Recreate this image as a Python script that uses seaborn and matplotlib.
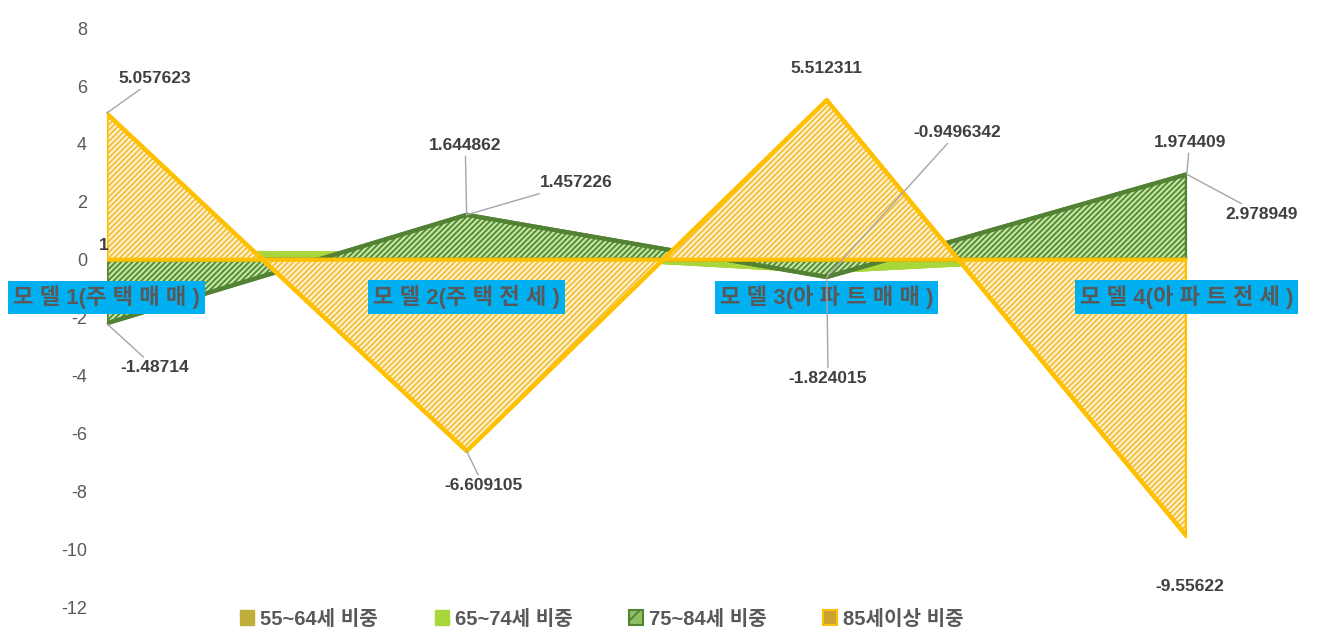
import numpy as np
import pandas as pd
import seaborn as sns
import matplotlib.pyplot as plt
from matplotlib.patches import Patch

categories = ["모델1(주택매매)", "모델2(주택전세)", "모델3(아파트매매)", "모델4(아파트전세)"]
cat_display = ["모 델 1(주 택 매 매 )", "모 델 2(주 택 전 세 )", "모 델 3(아 파 트 매 매 )", "모 델 4(아 파 트 전 세 )"]
series_names = ["55~64세 비중", "65~74세 비중", "75~84세 비중", "85세이상 비중"]

s55 = [0.25, 0.15, -0.35, 0.1]
s65 = [0.3, 0.25, -0.45, 0.2]
s75 = [-2.2, 1.55, -0.6, 2.95]
s85 = [5.057623, -6.609105, 5.512311, -9.55622]

# label text, series, category index, offset (points), leader line?
labels = [
    ("5.057623", "85세이상 비중", 0, (35, 25), True),
    ("-1.48714", "75~84세 비중", 0, (35, -32), True),
    ("1", "65~74세 비중", 0, (-2, 4), False),
    ("1.644862", "75~84세 비중", 1, (-1, 50), True),
    ("1.457226", "75~84세 비중", 1, (79, 23), True),
    ("-6.609105", "85세이상 비중", 1, (12, -25), True),
    ("5.512311", "85세이상 비중", 2, (0, 23), False),
    ("-0.9496342", "75~84세 비중", 2, (94, 104), True),
    ("-1.824015", "75~84세 비중", 2, (1, -73), True),
    ("1.974409", "75~84세 비중", 3, (2, 23), True),
    ("2.978949", "75~84세 비중", 3, (54, -29), True),
    ("-9.55622", "85세이상 비중", 3, (2, -36), False),
]

df = pd.DataFrame({
    "pos": np.tile(np.arange(len(categories)), 4),
    "value": s55 + s65 + s75 + s85,
    "series": np.repeat(series_names, len(categories)),
})

sns.set_theme(style="white")
plt.rcParams["font.family"] = ["Liberation Sans", "Noto Sans CJK KR", "DejaVu Sans"]
plt.rcParams["hatch.linewidth"] = 1.3
plt.rcParams["axes.unicode_minus"] = False

fig = plt.figure(figsize=(13.32, 6.39), dpi=100)
ax = fig.add_axes([0.080, 0.050, 0.811, 0.906])

styles = {
    "55~64세 비중": dict(face="#BFAE3A", hatch=None, hcol=None, edge="#BFAE3A", lw=1),
    "65~74세 비중": dict(face="#A9D63A", hatch=None, hcol=None, edge="#A9D63A", lw=1),
    "75~84세 비중": dict(face="#C8E3A8", hatch="//////", hcol="#4F8A2C", edge="#548235", lw=3),
    "85세이상 비중": dict(face="#FFF3D0", hatch="//////", hcol="#F4BE3A", edge="#FFC000", lw=3),
}

for i, name in enumerate(series_names):
    sub = df[df["series"] == name]
    st = styles[name]
    x = sub["pos"].values
    y = sub["value"].values
    ax.fill_between(x, 0, y, facecolor=st["face"], linewidth=0, zorder=2 + i)
    if st["hatch"]:
        ax.fill_between(x, 0, y, facecolor="none", hatch=st["hatch"],
                        edgecolor=st["hcol"], linewidth=0, zorder=2 + i)
    ax.fill_between(x, 0, y, facecolor="none", edgecolor=st["edge"],
                    linewidth=st["lw"], zorder=2 + i)
    sns.lineplot(data=sub, x="pos", y="value", color=st["edge"], lw=st["lw"],
                 ax=ax, legend=False, zorder=2 + i)

ax.set_xlim(0, len(categories) - 1)
ax.set_ylim(-12, 8)
ax.set_yticks(np.arange(-12, 9, 2))
ax.set_xticks([])
ax.set_xlabel("")
ax.set_ylabel("")
ax.tick_params(axis="y", length=0, labelsize=13, labelcolor="#595959", pad=14)
for sp in ax.spines.values():
    sp.set_visible(False)

# category labels on cyan boxes
for i, lab in enumerate(cat_display):
    ax.text(i, -1.3, lab, ha="center", va="center", fontsize=16, color="#595959",
            fontweight="bold", zorder=10, clip_on=False,
            bbox=dict(boxstyle="square,pad=0.22", fc="#00B0F0", ec="none"))

lookup = {n: v for n, v in zip(series_names, [s55, s65, s75, s85])}
for text, name, idx, off, leader in labels:
    ap = dict(arrowstyle="-", color="#A6A6A6", lw=1, shrinkA=0, shrinkB=0) if leader else None
    ax.annotate(text, xy=(idx, lookup[name][idx]), xytext=off, textcoords="offset points",
                ha="center", va="center", fontsize=12.5, fontweight="bold", color="#404040",
                arrowprops=ap, zorder=11, annotation_clip=False)

handles = [
    Patch(facecolor="#BFAE3A", edgecolor="#BFAE3A"),
    Patch(facecolor="#A9D63A", edgecolor="#A9D63A"),
    Patch(facecolor="#8DC063", edgecolor="#548235", hatch="//", linewidth=1.5),
    Patch(facecolor="#C9A230", edgecolor="#FFC000", linewidth=1.5),
]
fig.legend(handles, series_names, loc="lower center", bbox_to_anchor=(0.452, -0.012), ncol=4,
           frameon=False, handlelength=0.7, handleheight=0.7, handletextpad=0.3,
           columnspacing=2.8, prop=dict(size=14.5, weight="bold"), labelcolor="#595959")

fig.savefig("out.png", dpi=100)
